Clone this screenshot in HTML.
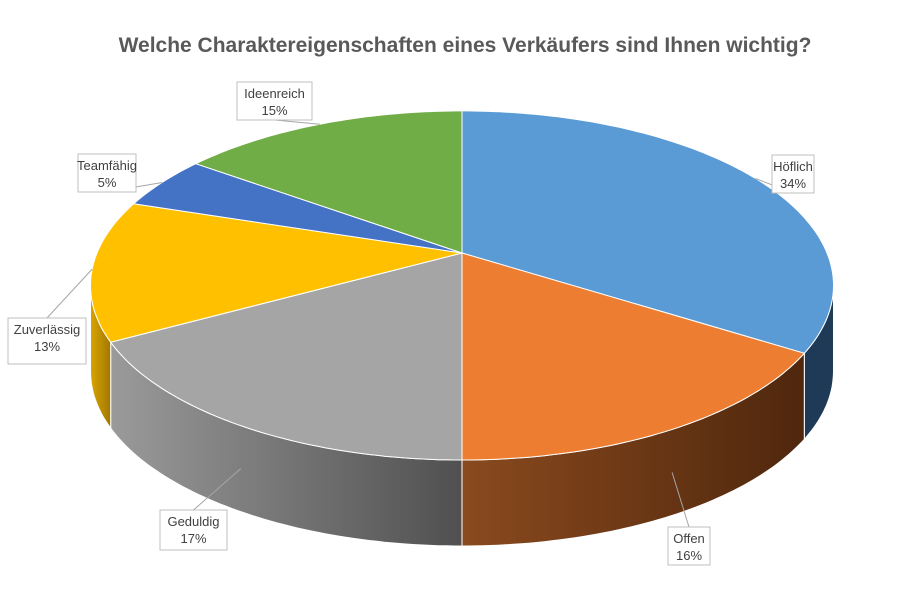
<!DOCTYPE html>
<html><head><meta charset="utf-8">
<style>
body{margin:0;background:#fff;}
svg text{font-family:"Liberation Sans",sans-serif;}
</style></head>
<body>
<svg id="chart" width="900" height="590">
<defs>
<linearGradient id="gOffen" x1="0" x2="1" y1="0" y2="0"><stop offset="0" stop-color="#8a4a1e"/><stop offset="1" stop-color="#4f270d"/></linearGradient>
<linearGradient id="gGed" x1="0" x2="1" y1="0" y2="0"><stop offset="0" stop-color="#9a9a9a"/><stop offset="1" stop-color="#505050"/></linearGradient>
<linearGradient id="gZuv" x1="0" x2="1" y1="0" y2="0"><stop offset="0" stop-color="#d9a400"/><stop offset="1" stop-color="#a07800"/></linearGradient>
</defs>
<text x="465" y="52" text-anchor="middle" font-size="21" font-weight="bold" fill="#595959">Welche Charaktereigenschaften eines Verkäufers sind Ihnen wichtig?</text>
<g id="walls"></g><g id="tops"></g><g id="labels"></g>
</svg>
<script>
const categories=["Höflich","Offen","Geduldig","Zuverlässig","Teamfähig","Ideenreich"];
const values=[34,16,17,13,5,15];
const colors=["#5b9bd5","#ed7d31","#a5a5a5","#ffc000","#4472c4","#70ad47"];
const wallFills=["#1f3a56","url(#gOffen)","url(#gGed)","url(#gZuv)","#2a4578","#466d2c"];
const labelBoxes=[[772,155,42,38],[668,527,42,38],[160,510,67,40],[8,318,78,46],[78,154,58,38],[237,82,75,38]];
const ax=462,ay=253,R=365,C1=168.5,K=0.186,depth=86;
const NS="http://www.w3.org/2000/svg";
function pt(t){const r=t*Math.PI/180,u=Math.sin(r),v=Math.cos(r),d=1+K*v;return [ax+R*u/d,ay-C1*v/d];}
const wMin=Math.acos(-K)*180/Math.PI,wMax=360-wMin;
const total=values.reduce((a,b)=>a+b,0);
let a0=0;
const walls=document.getElementById('walls'),tops=document.getElementById('tops'),labs=document.getElementById('labels');
values.forEach((v,i)=>{
  const a1=a0+v/total*360;
  const s=Math.max(a0,wMin),e=Math.min(a1,wMax);
  if(e>s){
    let d="",back=[];
    for(let t=s;t<=e+0.001;t+=1){const p=pt(Math.min(t,e));d+=(d?"L":"M")+p[0].toFixed(1)+","+p[1].toFixed(1);back.push(p);}
    const pe=pt(e);if(back.length&&back[back.length-1][0]!==pe[0]){d+="L"+pe[0].toFixed(1)+","+pe[1].toFixed(1);back.push(pe);}
    back.reverse().forEach(p=>{d+="L"+p[0].toFixed(1)+","+(p[1]+depth).toFixed(1);});
    const w=document.createElementNS(NS,'path');
    w.setAttribute('d',d+"Z");w.setAttribute('fill',wallFills[i]);w.setAttribute('stroke','#fff');w.setAttribute('stroke-width','1');
    
    
    walls.appendChild(w);
  }
  let d="M"+ax+","+ay;
  for(let t=a0;t<=a1+0.001;t+=1){const p=pt(Math.min(t,a1));d+="L"+p[0].toFixed(1)+","+p[1].toFixed(1);}
  const pa=pt(a1);d+="L"+pa[0].toFixed(1)+","+pa[1].toFixed(1);
  const p=document.createElementNS(NS,'path');
  p.setAttribute('d',d+"Z");p.setAttribute('fill',colors[i]);p.setAttribute('stroke','#fff');p.setAttribute('stroke-width','1');
  
  
  tops.appendChild(p);
  const b=labelBoxes[i];const mid=pt((a0+a1)/2);
  const bx=b[0]+b[2]/2,by=b[1]+b[3]/2;
  const ln=document.createElementNS(NS,'line');
  const anchorY=(mid[1]>ay+40)?mid[1]+depth*0.5:mid[1];
  ln.setAttribute('x1',mid[0]);ln.setAttribute('y1',anchorY);
  ln.setAttribute('x2',bx<mid[0]?b[0]+b[2]:b[0]);ln.setAttribute('y2',by);
  if(Math.abs(bx-mid[0])<80){ln.setAttribute('x2',bx);ln.setAttribute('y2',by<mid[1]?b[1]+b[3]:b[1]);}
  ln.setAttribute('stroke','#a6a6a6');ln.setAttribute('stroke-width','1');
  
  
  labs.appendChild(ln);
  const g=document.createElementNS(NS,'g');
  
  
  const r=document.createElementNS(NS,'rect');
  r.setAttribute('x',b[0]);r.setAttribute('y',b[1]);r.setAttribute('width',b[2]);r.setAttribute('height',b[3]);
  r.setAttribute('fill','#fff');r.setAttribute('stroke','#bfbfbf');
  g.appendChild(r);
  [categories[i],v+"%"].forEach((s,k)=>{
    const t=document.createElementNS(NS,'text');
    t.setAttribute('x',bx);t.setAttribute('y',b[1]+16+k*17);t.setAttribute('text-anchor','middle');
    t.setAttribute('font-size','13');t.setAttribute('fill','#404040');t.textContent=s;g.appendChild(t);
  });
  labs.appendChild(g);
  a0=a1;
});
</script>
</body></html>
